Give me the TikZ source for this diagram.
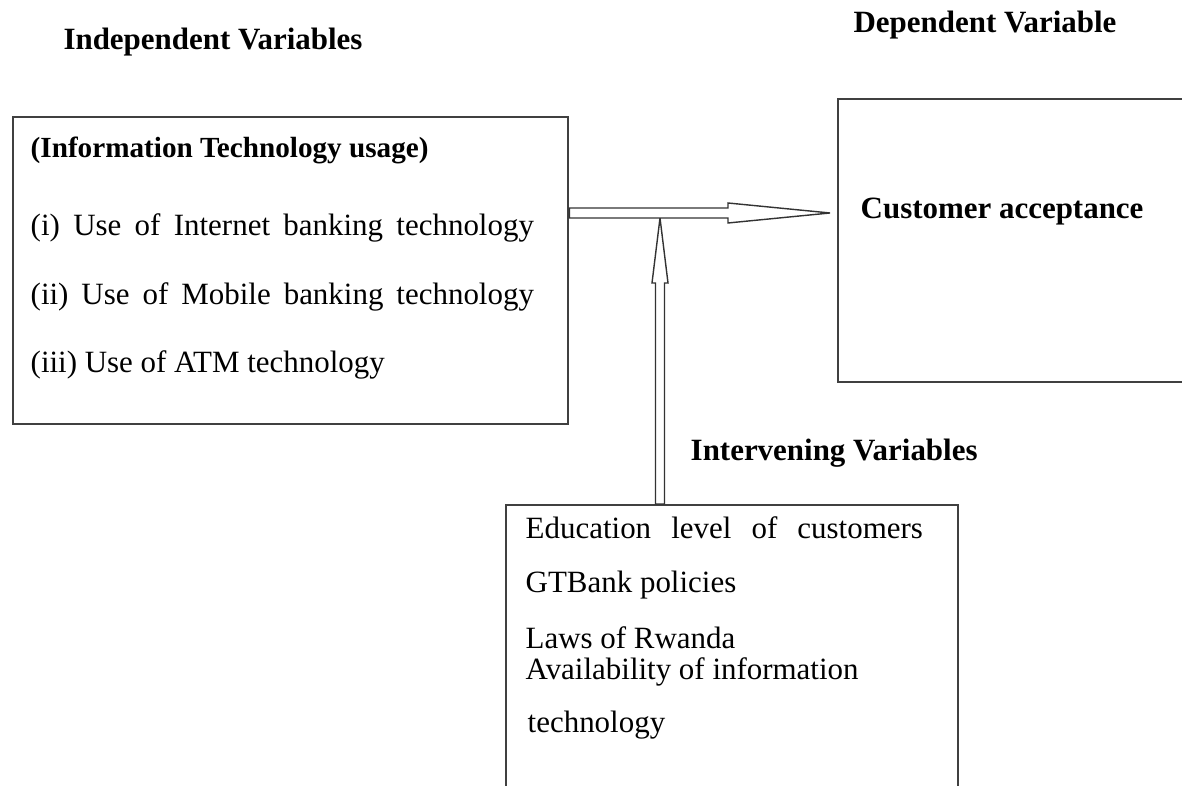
\documentclass[tikz,border=0pt]{standalone}
\usepackage{fontspec}
\setmainfont{Liberation Serif}
\usetikzlibrary{positioning,calc}

\begin{document}
\begin{tikzpicture}[
    x=0.01cm, y=-0.01cm,
    box/.style={rectangle, draw=black!75, line width=0.6pt, anchor=north west, inner sep=0pt},
    heading/.style={font=\fontsize{8.8}{10}\selectfont\bfseries, inner sep=0pt},
    item/.style={font=\fontsize{8.8}{10}\selectfont, anchor=west, inner sep=0pt},
    hollow/.style={draw=black!80, line width=0.4pt, fill=white, line join=miter}
]
\useasboundingbox (0,0) rectangle (1182,786);

% Boxes
\node[box, minimum width=5.55cm, minimum height=3.07cm] (itbox) at (12,116) {};
\node[box, minimum width=4.0cm, minimum height=2.83cm] (accbox) at (837,98) {};
\node[box, minimum width=4.52cm, minimum height=3.2cm] (intbox) at (505,504) {};

% Headings
\node[heading] (indep) at (213,42) {Independent Variables};
\node[heading] (dep) at (985,25) {Dependent Variable};
\node[heading, anchor=west] (interv) at (690,453) {Intervening Variables};

% Independent variables
\node[heading, anchor=west, font=\fontsize{8.3}{10}\selectfont\bfseries] (itusage) at (30,150) {(Information Technology usage)};
\node[item] (inet) at (30,228) {\makebox[5.03cm][s]{(i) Use of Internet banking technology}};
\node[item] (mobile) at (30,297) {\makebox[5.03cm][s]{(ii) Use of Mobile banking technology}};
\node[item] (atm) at (30,365) {(iii) Use of ATM technology};

% Dependent variable
\node[heading, anchor=west] (accept) at (860,212) {Customer acceptance};

% Intervening variables
\node[item] (educ) at (525,528) {\makebox[3.97cm][s]{Education level of customers}};
\node[item] (policy) at (525,585) {GTBank policies};
\node[item] (laws) at (525,638) {Laws of Rwanda};
\node[item] (avail) at (525,672) {Availability of information};
\node[item] (tech) at (527,725) {technology};

% Arrows
\coordinate (hfrom) at (itbox.east |- 0,213);
\coordinate (htip) at ($(accbox.west |- hfrom)+(-7,0)$);
\coordinate (vfrom) at (intbox.north -| 660,0);
\coordinate (vtip) at ($(vfrom |- hfrom)+(0,5)$);
\draw[hollow] ($(vfrom)+(-4.5,0)$) -- ($(vtip)+(-4.5,65)$) -- ++(-3.5,0) -- (vtip)
    -- ($(vtip)+(8,65)$) -- ++(-3.5,0) -- ($(vfrom)+(4.5,0)$) -- cycle;
\draw[hollow] ($(hfrom)+(0,-5)$) -- ($(htip)+(-102,-5)$) -- ++(0,-5) -- (htip)
    -- ($(htip)+(-102,10)$) -- ++(0,-5) -- ($(hfrom)+(0,5)$) -- cycle;
\end{tikzpicture}
\end{document}
